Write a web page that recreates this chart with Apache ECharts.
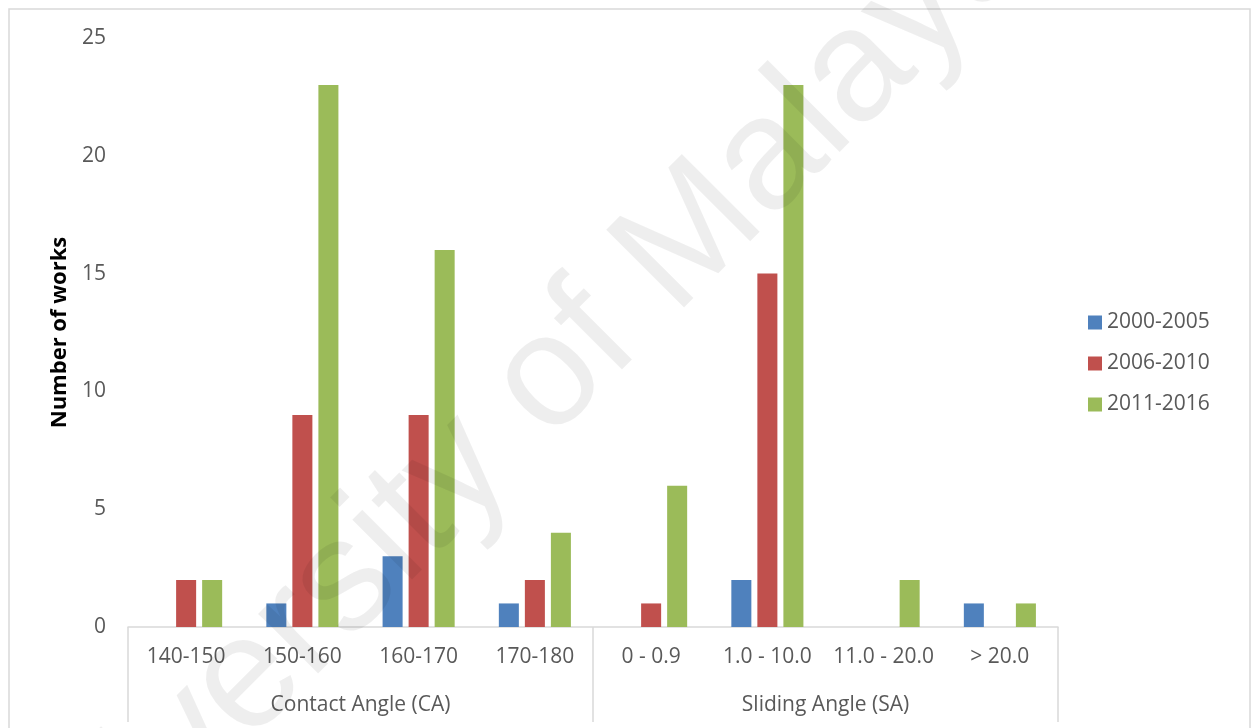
<!DOCTYPE html>
<html>
<head>
<meta charset="utf-8">
<title>Number of works by contact and sliding angle</title>
<script src="https://cdn.jsdelivr.net/npm/echarts@6/dist/echarts.min.js"></script>
<style>
  html, body { margin: 0; padding: 0; background: #ffffff; }
  #chart { width: 1255px; height: 728px; }
</style>
</head>
<body>
<div id="chart"></div>
<script>
// Angle ranges (inner axis) and the two measurement groups (outer axis)
const categories = ['140-150', '150-160', '160-170', '170-180', '0 - 0.9', '1.0 - 10.0', '11.0 - 20.0', '> 20.0'];
const groups = ['Contact Angle (CA)', 'Sliding Angle (SA)'];

// Publication periods
const seriesNames = ['2000-2005', '2006-2010', '2011-2016'];
const works2000_2005 = [0, 1, 3, 1, 0, 2, 0, 1];
const works2006_2010 = [2, 9, 9, 2, 1, 15, 0, 0];
const works2011_2016 = [2, 23, 16, 4, 6, 23, 2, 1];

const yTicks = { min: 0, max: 25, interval: 5 };

const colors = ['#4f81bd', '#c0504d', '#9bbb59'];
const FONT = '"Open Sans", "Liberation Sans", sans-serif';
const TEXT_GREY = '#595959';
const LINE_GREY = '#d9d9d9';

const chart = echarts.init(document.getElementById('chart'), null, { renderer: 'canvas' });

const seriesData = [works2000_2005, works2006_2010, works2011_2016];

chart.setOption({
  animation: false,
  backgroundColor: '#ffffff',
  color: colors,
  textStyle: { fontFamily: FONT },
  grid: { left: 128, right: 197, top: 38, bottom: 101, containLabel: false },
  legend: {
    orient: 'vertical',
    left: 1083,
    top: 307,
    itemWidth: 14,
    itemHeight: 14,
    itemGap: 20,
    icon: 'rect',
    data: seriesNames,
    textStyle: { fontFamily: FONT, fontSize: 21, color: TEXT_GREY }
  },
  xAxis: [
    {
      type: 'category',
      data: categories,
      position: 'bottom',
      axisLine: { show: true, lineStyle: { color: LINE_GREY, width: 1.5 } },
      axisTick: { show: false },
      axisLabel: { margin: 20, fontFamily: FONT, fontSize: 21, color: TEXT_GREY, interval: 0 },
      splitLine: { show: false }
    },
    {
      type: 'category',
      data: groups,
      position: 'bottom',
      boundaryGap: true,
      axisLine: { show: false },
      axisTick: { show: true, alignWithLabel: false, length: 95, lineStyle: { color: LINE_GREY, width: 1.5 } },
      axisLabel: { margin: 68, fontFamily: FONT, fontSize: 21, color: TEXT_GREY, interval: 0 },
      splitLine: { show: false }
    }
  ],
  yAxis: {
    type: 'value',
    min: yTicks.min,
    max: yTicks.max,
    interval: yTicks.interval,
    name: 'Number of works',
    nameLocation: 'middle',
    nameGap: 57,
    nameTextStyle: { fontFamily: FONT, fontSize: 22, fontWeight: 'bold', color: '#000000' },
    axisLine: { show: false },
    axisTick: { show: false },
    splitLine: { show: false },
    axisLabel: { margin: 22, fontFamily: FONT, fontSize: 21, color: TEXT_GREY }
  },
  series: seriesNames.map((name, i) => ({
    name: name,
    type: 'bar',
    xAxisIndex: 0,
    data: seriesData[i],
    barCategoryGap: '38%',
    barGap: '30%',
    itemStyle: { color: colors[i] }
  })),
  graphic: [
    {
      type: 'rect',
      silent: true,
      z: -10,
      shape: { x: 9, y: 9, width: 1241, height: 740 },
      style: { fill: 'none', stroke: LINE_GREY, lineWidth: 1.5 }
    },
    {
      type: 'text',
      silent: true,
      z: 100,
      x: 499,
      y: 430,
      rotation: Math.PI / 4,
      style: {
        text: 'University of Malaya',
        font: '160px "Liberation Sans", Arial, sans-serif',
        fill: 'rgba(0,0,0,0.065)',
        align: 'center',
        verticalAlign: 'middle'
      }
    }
  ]
});
</script>
</body>
</html>
